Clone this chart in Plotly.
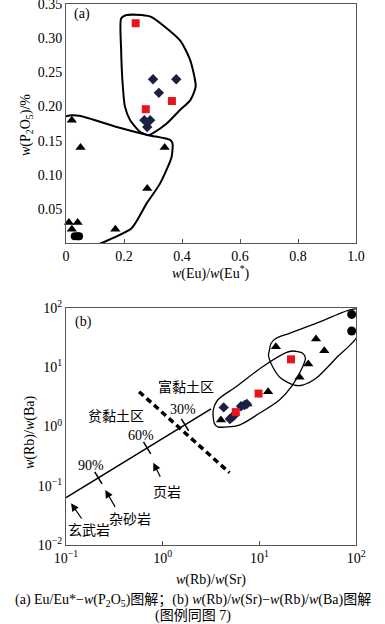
import plotly.graph_objects as go

# ---------------- Panel (a): Eu/Eu* vs P2O5 ----------------
a_sq_x = [0.24, 0.275, 0.365]
a_sq_y = [0.322, 0.196, 0.208]
a_dia_x = [0.30, 0.38, 0.32, 0.27, 0.29, 0.28]
a_dia_y = [0.24, 0.24, 0.22, 0.18, 0.18, 0.17]
a_tri_x = [0.02, 0.05, 0.34, 0.28, 0.17, 0.01, 0.04, 0.02]
a_tri_y = [0.18, 0.14, 0.14, 0.08, 0.02, 0.03, 0.03, 0.02]
a_cir_x = [0.03, 0.04, 0.045]
a_cir_y = [0.01, 0.01, 0.01]

a_up_poly_x = [0.19, 0.209, 0.261, 0.295, 0.393, 0.428, 0.447, 0.428, 0.393, 0.347, 0.30, 0.284, 0.255, 0.221, 0.203, 0.195, 0.19, 0.19]
a_up_poly_y = [0.329, 0.334, 0.334, 0.331, 0.297, 0.268, 0.229, 0.209, 0.195, 0.175, 0.161, 0.158, 0.163, 0.18, 0.20, 0.234, 0.283, 0.329]
a_lo_poly_x = [-0.01, 0.02, 0.05, 0.175, 0.284, 0.359, 0.367, 0.364, 0.324, 0.278, 0.226, 0.123, 0.09]
a_lo_poly_y = [0.185, 0.187, 0.186, 0.170, 0.158, 0.151, 0.146, 0.126, 0.087, 0.058, 0.0215, 0.0, -0.006]

a_xticks = [0, 0.2, 0.4, 0.6, 0.8, 1.0]
a_xticklabels = ["0", "0.2", "0.4", "0.6", "0.8", "1.0"]
a_yticks = [0.05, 0.10, 0.15, 0.20, 0.25, 0.30, 0.35]
a_yticklabels = ["0.05", "0.10", "0.15", "0.20", "0.25", "0.30", "0.35"]

# ---------------- Panel (b): Rb/Sr vs Rb/Ba ----------------
b_sq_x = [21.2, 9.8, 5.7]
b_sq_y = [13.6, 3.6, 1.75]
b_dia_x = [4.27, 5.2, 5.5, 6.45, 7.0, 7.4, 4.95]
b_dia_y = [2.1, 1.43, 1.55, 2.2, 2.3, 2.4, 1.34]
b_tri_x = [14.8, 38.5, 46.9, 32, 26, 12.3, 7.5, 4.0]
b_tri_y = [22.2, 30, 19, 11.3, 6.8, 3.87, 2.4, 1.29]
b_cir_x = [90, 90]
b_cir_y = [78, 41]

b_lo_poly_x = [3.42, 3.70, 6.2, 10, 16.1, 22, 28, 29.9, 28, 22, 18.8, 10.8, 5.73, 3.70, 3.33, 3.42]
b_lo_poly_y = [1.13, 0.99, 1.06, 1.67, 2.8, 5.0, 10.2, 14.2, 17.2, 18.8, 17.6, 10.2, 4.7, 2.8, 1.9, 1.13]
b_up_poly_x = [12.6, 13.2, 14.9, 20.4, 38.5, 85, 105, 105, 62, 38.5, 28, 23, 16.7, 13.7, 12.4, 12.6]
b_up_poly_y = [18.3, 25.4, 30.8, 37.4, 55.2, 92.5, 95, 35, 14.2, 6.5, 5.0, 5.0, 6.5, 10.2, 16.1, 18.3]

b_mix_x = [0.1, 3.16]
b_mix_y = [0.063, 1.99]
b_mix_tick_x = [0.216, 0.69, 1.70]
b_mix_tick_y = [0.136, 0.435, 1.07]
b_mix_tick_labels = ["90%", "60%", "30%"]
b_dash_x = [0.57, 4.9]
b_dash_y = [3.87, 0.166]

b_xticks = [0.1, 1, 10, 100]
b_xticklabels = ["10<sup>−1</sup>", "10<sup>0</sup>", "10<sup>1</sup>", "10<sup>2</sup>"]
b_yticks = [0.01, 0.1, 1, 10, 100]
b_yticklabels = ["10<sup>−2</sup>", "10<sup>−1</sup>", "10<sup>0</sup>", "10<sup>1</sup>", "10<sup>2</sup>"]

RED = "#e8141b"
NAVY = "#1b2040"
BLK = "#000000"
FONT = "Liberation Serif, Noto Sans CJK SC"

fig = go.Figure()

def pts(x, y, sym, color, size, xa, ya):
    fig.add_trace(go.Scatter(x=x, y=y, mode="markers", xaxis=xa, yaxis=ya,
                             marker=dict(symbol=sym, color=color, size=size, line=dict(width=0)),
                             showlegend=False, hoverinfo="skip", cliponaxis=False))

def poly(x, y, xa, ya, w, sm=0.8):
    fig.add_trace(go.Scatter(x=x, y=y, mode="lines", xaxis=xa, yaxis=ya,
                             line=dict(color=BLK, width=w, shape="spline", smoothing=sm),
                             showlegend=False, hoverinfo="skip"))

# Panel (a)
poly(a_up_poly_x, a_up_poly_y, "x", "y", 2, 0.6)
poly(a_lo_poly_x, a_lo_poly_y, "x", "y", 2, 0.6)
pts(a_cir_x, a_cir_y, "circle", BLK, 8, "x", "y")
pts(a_tri_x, a_tri_y, "triangle-up", BLK, 9, "x", "y")
pts(a_dia_x, a_dia_y, "diamond", NAVY, 8, "x", "y")
pts(a_sq_x, a_sq_y, "square", RED, 8, "x", "y")

# Panel (b)
poly(b_lo_poly_x, b_lo_poly_y, "x2", "y2", 1.3)
poly(b_up_poly_x, b_up_poly_y, "x2", "y2", 1.3)
fig.add_trace(go.Scatter(x=b_mix_x, y=b_mix_y, mode="lines", xaxis="x2", yaxis="y2",
                         line=dict(color=BLK, width=1.5), showlegend=False, hoverinfo="skip"))
fig.add_trace(go.Scatter(x=b_mix_tick_x, y=b_mix_tick_y, mode="markers", xaxis="x2", yaxis="y2",
                         marker=dict(symbol="line-ns", size=10, angle=-31.5,
                                     line=dict(color=BLK, width=1.5)),
                         showlegend=False, hoverinfo="skip"))
fig.add_trace(go.Scatter(x=b_dash_x, y=b_dash_y, mode="lines", xaxis="x2", yaxis="y2",
                         line=dict(color=BLK, width=3.5, dash="6px,4px"), showlegend=False, hoverinfo="skip"))
pts(b_cir_x, b_cir_y, "circle", BLK, 9, "x2", "y2")
pts(b_tri_x, b_tri_y, "triangle-up", BLK, 9, "x2", "y2")
pts(b_dia_x, b_dia_y, "diamond", NAVY, 8, "x2", "y2")
pts(b_sq_x, b_sq_y, "square", RED, 8, "x2", "y2")

ax_common = dict(showgrid=False, zeroline=False, showline=True, mirror=True,
                 linecolor="#555555", linewidth=1.2, automargin=False,
                 ticklabeloverflow="allow",
                 tickfont=dict(family=FONT, size=14, color=BLK))

fig.update_layout(
    width=385, height=624,
    margin=dict(l=0, r=0, t=0, b=0, autoexpand=False),
    paper_bgcolor="white", plot_bgcolor="white",
    font=dict(family=FONT, size=13, color=BLK),
    xaxis=dict(domain=[0.1715, 0.925], range=[0, 1.0001], anchor="y",
               tickvals=a_xticks, ticktext=a_xticklabels,
               ticks="inside", ticklen=4, tickcolor="#555555", **ax_common),
    yaxis=dict(domain=[0.6106, 0.9936], range=[0, 0.3502], anchor="x",
               tickvals=a_yticks, ticktext=a_yticklabels, ticks="", **ax_common),
    xaxis2=dict(domain=[0.1715, 0.925], type="log", range=[-1, 2.0001], anchor="y2",
                tickvals=b_xticks, ticktext=b_xticklabels,
                ticks="inside", ticklen=4, tickcolor="#555555", **ax_common),
    yaxis2=dict(domain=[0.1266, 0.5064], type="log", range=[-2, 2.0001], anchor="x2",
                tickvals=b_yticks, ticktext=b_yticklabels, ticks="", **ax_common),
)

ann = []
def txt(x, y, s, xref="paper", yref="paper", size=13, angle=0, xanchor="center"):
    ann.append(dict(x=x, y=y, xref=xref, yref=yref, text=s, showarrow=False,
                    font=dict(family=FONT, size=size, color=BLK), textangle=angle,
                    xanchor=xanchor, yanchor="middle"))

# panel labels
txt(0.02, 0.335, "(a)", "x", "y", 14, xanchor="left")
txt(-0.93, 1.77, "(b)", "x2", "y2", 14, xanchor="left")

# axis titles
txt(27 / 385, 1 - 125 / 624, "<i>w</i>(P<sub>2</sub>O<sub>5</sub>)/%", angle=-90, size=14)
txt(211 / 385, 1 - 272 / 624, "<i>w</i>(Eu)/<i>w</i>(Eu<sup>*</sup>)", size=14)
txt(30 / 385, 1 - 433 / 624, "<i>w</i>(Rb)/<i>w</i>(Ba)", angle=-90, size=14)
txt(211 / 385, 1 - 580 / 624, "<i>w</i>(Rb)/<i>w</i>(Sr)", size=14)

# caption
txt(0.5, 1 - 600 / 624, "(a) Eu/Eu*−<i>w</i>(P<sub>2</sub>O<sub>5</sub>)图解；(b) <i>w</i>(Rb)/<i>w</i>(Sr)−<i>w</i>(Rb)/<i>w</i>(Ba)图解", size=14)
txt(0.5, 1 - 616 / 624, "(图例同图 7)", size=14)

# panel (b) text
txt(-0.48, 0.177, "贫黏土区", "x2", "y2", 14)
txt(0.244, 0.667, "富黏土区", "x2", "y2", 14)
txt(0.213, 0.295, b_mix_tick_labels[2], "x2", "y2", 14)
txt(-0.224, -0.155, b_mix_tick_labels[1], "x2", "y2", 14)
txt(-0.741, -0.65, b_mix_tick_labels[0], "x2", "y2", 14)
txt(0.048, -1.122, "页岩", "x2", "y2", 14)
txt(-0.335, -1.578, "杂砂岩", "x2", "y2", 14)
txt(-0.759, -1.747, "玄武岩", "x2", "y2", 14)

# arrows (head <- tail)
for hx, hy, tx, ty in [(-0.948, -1.296, -0.828, -1.578),
                       (-0.594, -1.072, -0.483, -1.381),
                       (-0.097, -0.611, -0.018, -0.874)]:
    ann.append(dict(x=hx, y=hy, xref="x2", yref="y2", ax=tx, ay=ty, axref="x2", ayref="y2",
                    showarrow=True, arrowhead=2, arrowsize=1.3, arrowwidth=1.2, arrowcolor=BLK, text=""))

fig.update_layout(annotations=ann)
fig.write_html("out.html", config={"displayModeBar": False},
               post_script="document.body.style.margin='0';document.body.style.overflow='hidden';")
